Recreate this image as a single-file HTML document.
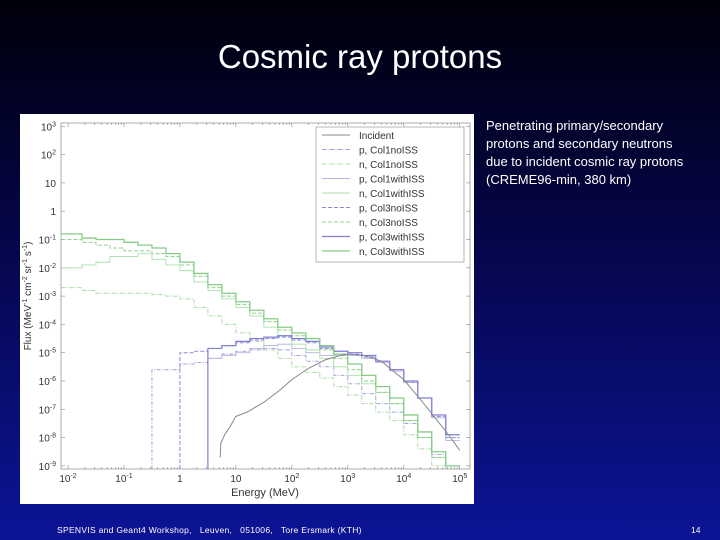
<!DOCTYPE html>
<html><head><meta charset="utf-8"><style>
body{margin:0;width:720px;height:540px;overflow:hidden;background:linear-gradient(#00000a 0%,#05064a 45%,#0c1496 100%);font-family:"Liberation Sans",sans-serif;position:relative}
.t{position:absolute;color:#fff}
</style></head><body>
<div class="t" style="left:0;width:720px;top:38px;text-align:center;font-size:33px">Cosmic ray protons</div>
<div class="t" style="left:486px;top:117px;font-size:13px;line-height:18px">Penetrating primary/secondary<br>protons and secondary neutrons<br>due to incident cosmic ray protons<br>(CREME96-min, 380 km)</div>
<div class="t" style="left:57px;top:525px;font-size:8.5px;letter-spacing:0.3px;white-space:pre">SPENVIS and Geant4 Workshop,   Leuven,   051006,   Tore Ersmark (KTH)</div>
<div class="t" style="left:691px;top:525px;font-size:8.5px">14</div>
<svg id="chart" width="720" height="540" style="position:absolute;left:0;top:0" font-family="Liberation Sans, sans-serif"></svg>
<script>
const binStart=[-2,-1.75,-1.5,-1.25,-1,-0.75,-0.5,-0.25,0,0.25,0.5,0.75,1,1.25,1.5,1.75,2,2.25,2.5,2.75,3,3.25,3.5,3.75,4,4.25,4.5,4.75];
const binWidth=0.25;
const n3w=[-0.8,-0.95,-1.0,-1.0,-1.1,-1.2,-1.3,-1.5,-1.8,-2.2,-2.6,-2.9,-3.2,-3.5,-3.8,-4.1,-4.3,-4.5,-4.75,-5.05,-5.4,-5.8,-6.2,-6.6,-7.2,-7.8,-8.5,-9.0];
const n3n=[-1.0,-1.1,-1.2,-1.3,-1.4,-1.4,-1.5,-1.6,-1.9,-2.3,-2.7,-3.0,-3.3,-3.6,-3.9,-4.2,-4.4,-4.6,-4.9,-5.2,-5.6,-6.0,-6.4,-6.8,-7.4,-8.0,-8.7,-9.0];
const n1w=[-2.0,-1.9,-1.8,-1.6,-1.6,-1.5,-1.7,-1.9,-2.1,-2.5,-2.8,-3.1,-3.4,-3.7,-4.1,-4.4,-4.7,-4.9,-5.2,-5.5,-5.8,-6.1,-6.4,-6.8,-7.4,-8.0,-8.7,-9.0];
const n1n=[-2.7,-2.8,-2.9,-2.9,-2.9,-2.9,-2.95,-3.0,-3.1,-3.4,-3.7,-4.0,-4.3,-4.6,-4.9,-5.2,-5.5,-5.7,-5.9,-6.2,-6.5,-6.8,-7.1,-7.4,-7.9,-8.4,-9.0,null];
const p3w=[null,null,null,null,null,null,null,null,null,null,-4.85,-4.75,-4.6,-4.5,-4.45,-4.4,-4.5,-4.6,-4.8,-4.95,-5.0,-5.1,-5.3,-5.6,-6.0,-6.6,-7.2,-7.9];
const p3n=[null,null,null,null,null,null,null,null,-5.0,-4.95,-4.85,-4.75,-4.65,-4.55,-4.5,-4.45,-4.55,-4.65,-4.85,-4.95,-5.05,-5.15,-5.3,-5.6,-6.05,-6.6,-7.25,-8.0];
const p1w=[null,null,null,null,null,null,null,null,null,null,-5.2,-5.1,-5.0,-4.85,-4.75,-4.7,-4.85,-5.0,-5.1,-5.1,-5.1,-5.2,-5.35,-5.65,-6.05,-6.6,-7.3,-8.1];
const p1n=[null,null,null,null,null,null,-5.6,-5.6,-5.4,-5.35,-5.2,-5.05,-4.95,-4.9,-4.85,-4.9,-5.1,-5.3,-5.5,-5.8,-6.1,-6.45,-6.8,-7.1,-7.5,-8.0,-8.6,null];
const incE=[0.72,0.73,0.8,0.9,1,1.2,1.5,1.8,2,2.3,2.6,2.9,3,3.3,3.6,4,4.4,4.8,5];
const incF=[-8.7,-8.2,-7.9,-7.6,-7.25,-7.1,-6.75,-6.3,-5.95,-5.55,-5.25,-5.08,-5.05,-5.1,-5.3,-5.95,-6.9,-7.9,-8.45];
const xTicks=[-2,-1,0,1,2,3,4,5];
const yTicks=[3,2,1,0,-1,-2,-3,-4,-5,-6,-7,-8,-9];
const legendLabels=["Incident","p, Col1noISS","n, Col1noISS","p, Col1withISS","n, Col1withISS","p, Col3noISS","n, Col3noISS","p, Col3withISS","n, Col3withISS"];

const NS="http://www.w3.org/2000/svg",svg=document.getElementById('chart');
const X=v=>68+(v+2)*55.96, Y=v=>126.3+(3-v)*28.3;
function mk(t,a,p){const e=document.createElementNS(NS,t);for(const k in a)e.setAttribute(k,a[k]);(p||svg).appendChild(e);return e;}
const panel=mk('rect',{x:20,y:114,width:454,height:390,fill:'#fff'});


const frame=mk('rect',{x:61,y:123,width:409,height:346,fill:'none',stroke:'#999','stroke-width':0.8});


xTicks.forEach(v=>{
  const t=mk('text',{x:X(v),y:482,'font-size':10,'text-anchor':'middle',fill:'#333'});
  
  
  if(v===0)t.textContent='1';else if(v===1)t.textContent='10';else{t.textContent='10';const s=mk('tspan',{dy:-4,'font-size':7},t);s.textContent=String(v);}
  for(let m=1;m<10;m++){const lx=X(v+Math.log10(m));if(lx<61||lx>470)continue;const L=m===1?4:2;
    mk('line',{x1:lx,x2:lx,y1:469,y2:469-L,stroke:'#888','stroke-width':0.6});mk('line',{x1:lx,x2:lx,y1:123,y2:123+L,stroke:'#888','stroke-width':0.6});}
});
yTicks.forEach(v=>{
  const t=mk('text',{x:56,y:Y(v)+4,'font-size':10,'text-anchor':'end',fill:'#333'});
  
  
  if(v===0)t.textContent='1';else if(v===1)t.textContent='10';else{t.textContent='10';const s=mk('tspan',{dy:-4,'font-size':7},t);s.textContent=String(v);}
  mk('line',{x1:61,x2:65,y1:Y(v),y2:Y(v),stroke:'#888','stroke-width':0.6});mk('line',{x1:470,x2:466,y1:Y(v),y2:Y(v),stroke:'#888','stroke-width':0.6});
});
const xl=mk('text',{x:265,y:496,'font-size':11,'text-anchor':'middle',fill:'#333'});xl.textContent='Energy (MeV)';


const yl=mk('text',{x:0,y:0,'font-size':10,'text-anchor':'middle',fill:'#333',transform:'translate(31,296) rotate(-90)'});
yl.innerHTML='Flux (MeV<tspan dy="-4" font-size="7">-1</tspan><tspan dy="4"> cm</tspan><tspan dy="-4" font-size="7">-2</tspan><tspan dy="4"> sr</tspan><tspan dy="-4" font-size="7">-1</tspan><tspan dy="4"> s</tspan><tspan dy="-4" font-size="7">-1</tspan><tspan dy="4">)</tspan>';


const styles=[
 {s:'#888',w:1,d:''},{s:'#9a9ad8',w:0.9,d:'4,1.5,1,1.5'},{s:'#a8dca8',w:1,d:'4,1.5,1,1.5'},
 {s:'#b4b4e4',w:0.9,d:''},{s:'#a8e0a8',w:0.9,d:''},{s:'#8a8ad8',w:1,d:'4,2'},{s:'#90d090',w:1,d:'4,2'},
 {s:'#7f7fd6',w:1.2,d:''},{s:'#86cc86',w:1.3,d:''}];
const series=[null,p1n,n1n,p1w,n1w,p3n,n3n,p3w,n3w];
const names=['incident','p-col1noiss','n-col1noiss','p-col1withiss','n-col1withiss','p-col3noiss','n-col3noiss','p-col3withiss','n-col3withiss'];
const floorY=469;
for(let k=1;k<9;k++){
  const arr=series[k];let d='',open=false;
  arr.forEach((v,i)=>{
    const x0=i===0?61.5:X(binStart[i]),x1=X(binStart[i]+binWidth);
    if(v===null){if(open){d+=`L${x0},${floorY}`;open=false;}return;}
    const y=Math.min(Y(v),floorY);
    if(!open){d+=(i===0?`M${x0},${y}`:`M${x0},${floorY}L${x0},${y}`);open=true;}else d+=`L${x0},${y}`;
    d+=`L${x1},${y}`;
  });
  const p=mk('path',{d:d,fill:'none',stroke:styles[k].s,'stroke-width':styles[k].w,'stroke-dasharray':styles[k].d});
  
  
}
const inc=mk('path',{d:incE.map((e,i)=>(i?'L':'M')+X(e)+','+Y(incF[i])).join(''),fill:'none',stroke:'#888','stroke-width':1});


const lg=mk('g',{});


mk('rect',{x:316,y:127,width:148,height:135,fill:'#fff',stroke:'#999','stroke-width':0.7},lg);
legendLabels.forEach((lab,i)=>{
  const y=135+i*14.5;
  const g=mk('g',{},lg);
  
  
  mk('line',{x1:322,x2:350,y1:y,y2:y,stroke:styles[i].s,'stroke-width':styles[i].w,'stroke-dasharray':styles[i].d},g);
  const t=mk('text',{x:359,y:y+4,'font-size':10,fill:'#333'},g);t.textContent=lab;
});
</script>
</body></html>
